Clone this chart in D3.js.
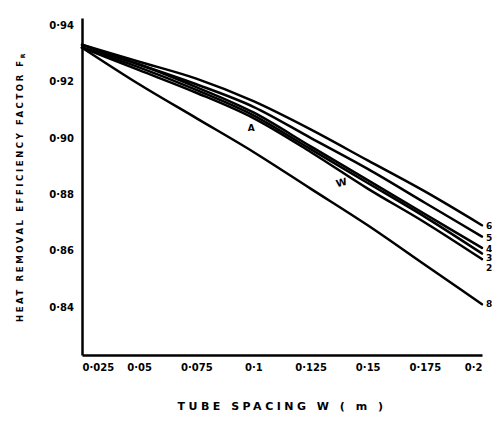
<!DOCTYPE html>
<html>
<head>
<meta charset="utf-8">
<script src="https://cdn.jsdelivr.net/npm/d3@7"></script>
<style>
  body { margin: 0; background: #fff; }
  svg text { font-family: "DejaVu Sans", sans-serif; font-weight: bold; fill: #000; }
</style>
</head>
<body>
<svg id="chart" width="492" height="422"></svg>
<script>
// tube spacing W (m)
var spacing = [0.025, 0.05, 0.075, 0.1, 0.125, 0.15, 0.175, 0.2];
var xTickLabels = ["0·025", "0·05", "0·075", "0·1", "0·125", "0·15", "0·175", "0·2"];
var yTicks = [0.94, 0.92, 0.90, 0.88, 0.86, 0.84];
var yTickLabels = ["0·94", "0·92", "0·90", "0·88", "0·86", "0·84"];

// heat removal efficiency factor (top curve first)
var curve6 = [0.933, 0.927, 0.921, 0.913, 0.903, 0.892, 0.881, 0.869];
var curve5 = [0.933, 0.926, 0.919, 0.911, 0.900, 0.889, 0.877, 0.865];
var curve4 = [0.932, 0.926, 0.918, 0.909, 0.897, 0.885, 0.873, 0.861];
var curve3 = [0.932, 0.925, 0.917, 0.908, 0.896, 0.884, 0.872, 0.859];
var curve2 = [0.932, 0.924, 0.916, 0.907, 0.895, 0.882, 0.870, 0.857];
var curve8 = [0.932, 0.919, 0.907, 0.895, 0.882, 0.869, 0.855, 0.841];
var curveNames = ["6", "5", "4", "3", "2", "8"];

var series = [curve6, curve5, curve4, curve3, curve2, curve8].map(function(vals, i) {
    return { name: curveNames[i], values: vals };
});

var svg = d3.select("#chart");
var plotLeft = 82, plotRight = 482, plotTop = 18, plotBottom = 355;

var x = d3.scaleLinear().domain([0.025, 0.2]).range([plotLeft, plotRight]);
var y = d3.scaleLinear().domain([0.823, 0.9425]).range([plotBottom, plotTop]);

// axes: plain lines, hand lettered labels, no tick marks
var xAxis = d3.axisBottom(x).tickValues(spacing)
    .tickFormat(function(d, i) { return xTickLabels[i]; })
    .tickSize(0).tickPadding(9);
var gx = svg.append("g").attr("transform", "translate(0," + plotBottom + ")").call(xAxis);
gx.select(".domain").attr("stroke", "#000").attr("stroke-width", 2.5);
gx.selectAll("text").attr("font-size", 10)
    .attr("text-anchor", function(d, i) {
        if (i === 0) return "start";
        if (i === spacing.length - 1) return "end";
        return "middle";
    });

var yAxis = d3.axisLeft(y).tickValues(yTicks)
    .tickFormat(function(d, i) { return yTickLabels[i]; })
    .tickSize(0).tickPadding(8);
var gy = svg.append("g").attr("transform", "translate(" + plotLeft + ",0)").call(yAxis);
gy.select(".domain").attr("stroke", "#000").attr("stroke-width", 2.5);
gy.selectAll("text").attr("font-size", 10);

// curves
var line = d3.line()
    .x(function(d, i) { return x(spacing[i]); })
    .y(function(d) { return y(d); })
    .curve(d3.curveMonotoneX);

svg.append("g").selectAll("path")
    .data(series)
    .enter().append("path")
    .attr("d", function(s) { return line(s.values); })
    .attr("fill", "none")
    .attr("stroke", "#000")
    .attr("stroke-width", 2.5)
    .attr("stroke-linecap", "round");

// curve labels at the right end, spread so they don't run into each other
var labelShift = [1, 1, 1, 5, 9, 0];
svg.append("g").selectAll("text")
    .data(series)
    .enter().append("text")
    .attr("x", x(0.2) + 4)
    .attr("y", function(s, i) { return y(s.values[s.values.length - 1]) + labelShift[i] + 3; })
    .attr("font-size", 9)
    .text(function(s) { return s.name; });

// small marks written on the bundle
svg.append("text").attr("x", x(0.0975)).attr("y", y(0.9025)).attr("font-size", 9).text("A");
svg.append("text").attr("x", x(0.1366)).attr("y", y(0.8825)).attr("font-size", 10)
    .attr("transform", "rotate(-15," + x(0.1366) + "," + y(0.8825) + ")").text("W");

// axis titles
svg.append("text")
    .attr("x", 282).attr("y", 410)
    .attr("text-anchor", "middle")
    .attr("font-size", 11)
    .attr("letter-spacing", 3.5)
    .text("TUBE  SPACING  W ( m )");

var yt = svg.append("text")
    .attr("transform", "translate(23," + ((plotTop + plotBottom) / 2) + ") rotate(-90)")
    .attr("text-anchor", "middle")
    .attr("font-size", 8.5)
    .attr("letter-spacing", 2.6);
yt.append("tspan").text("HEAT REMOVAL EFFICIENCY FACTOR  F");
yt.append("tspan").attr("font-size", 6).attr("dy", 2).text("R");
</script>
</body>
</html>
